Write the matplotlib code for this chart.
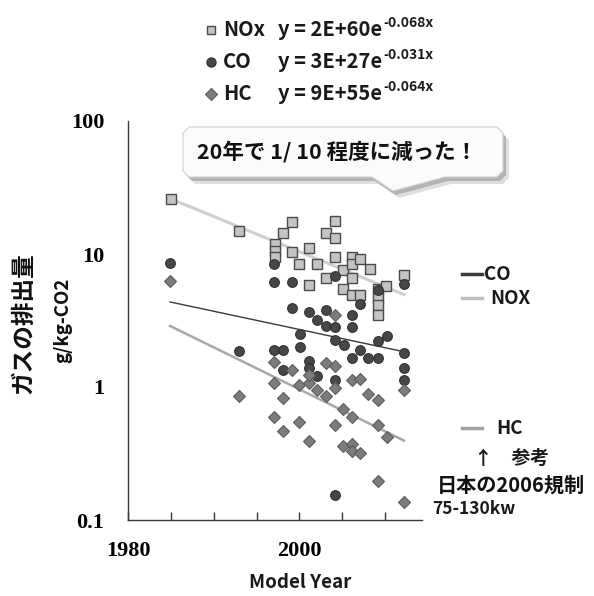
import numpy as np
import matplotlib
matplotlib.use("Agg")
import matplotlib.pyplot as plt
from matplotlib.patches import Polygon
from matplotlib.lines import Line2D

# ---------------- data ----------------
nox_year = [1985.0, 1993.0, 1997.1, 1997.1, 1997.1, 1998.1, 1999.1, 1999.1, 2000.0, 2001.1,
            2001.1, 2002.0, 2003.1, 2003.1, 2004.2, 2004.2, 2004.2, 2005.1, 2005.1, 2006.1,
            2006.1, 2006.1, 2006.1, 2007.1, 2007.1, 2008.2, 2009.2, 2009.2, 2009.2, 2009.2,
            2010.1, 2012.2]
nox_val = [26.0, 14.8, 11.8, 10.6, 9.5, 14.5, 17.4, 10.4, 8.4, 11.1,
           5.8, 8.4, 14.5, 6.6, 17.7, 13.1, 9.5, 7.6, 5.5, 9.5,
           8.4, 6.6, 4.9, 9.1, 4.9, 7.7, 5.5, 4.7, 4.1, 3.5,
           5.7, 7.0]

co_year = [1984.9, 1993.0, 1997.0, 1997.0, 1997.0, 1998.1, 1998.1, 1999.1, 1999.1, 2000.1,
           2000.1, 2001.1, 2001.1, 2001.1, 2002.0, 2002.0, 2003.1, 2003.1, 2004.2, 2004.2,
           2004.2, 2004.2, 2004.2, 2005.2, 2006.1, 2006.1, 2006.1, 2007.1, 2007.1, 2008.0,
           2009.2, 2009.2, 2009.2, 2010.2, 2012.2, 2012.2, 2012.2, 2012.2]
co_val = [8.5, 1.85, 8.4, 6.2, 1.9, 1.9, 1.35, 6.2, 3.9, 2.5,
          2.0, 3.65, 1.56, 1.4, 3.2, 1.2, 3.8, 2.9, 6.8, 2.85,
          2.25, 1.13, 0.155, 2.07, 3.5, 2.85, 1.65, 4.2, 1.9, 1.65,
          5.4, 2.2, 1.65, 2.4, 5.9, 1.8, 1.4, 1.13]

hc_year = [1984.9, 1993.0, 1997.0, 1997.0, 1997.0, 1998.1, 1998.1, 1999.1, 2000.0, 2000.0,
           2001.1, 2001.1, 2001.1, 2002.0, 2003.1, 2003.1, 2004.2, 2004.2, 2004.2, 2004.2,
           2005.1, 2005.1, 2006.1, 2006.1, 2006.1, 2006.1, 2007.1, 2007.1, 2008.0, 2009.2,
           2009.2, 2009.2, 2010.2, 2012.2, 2012.2]
hc_val = [6.3, 0.85, 1.55, 1.07, 0.59, 0.82, 0.47, 1.35, 1.04, 0.55,
          1.07, 1.24, 0.39, 0.95, 1.52, 0.85, 3.5, 1.43, 0.98, 0.52,
          0.68, 0.36, 1.13, 0.59, 0.37, 0.33, 1.15, 0.32, 0.89, 0.8,
          0.52, 0.195, 0.42, 0.95, 0.136]

legend_names = ["NOx", "CO", "HC"]
eq_base = ["y = 2E+60e", "y = 3E+27e", "y = 9E+55e"]
eq_exp = ["-0.068x", "-0.031x", "-0.064x"]
y_ticks = [0.1, 1, 10, 100]
y_ticklabels = ["0.1", "1", "10", "100"]
x_major = [1980, 2000]
x_ticklabels = ["1980", "2000"]
callout_text = "20年で 1/ 10 程度に減った！"
ylabel_main = "ガスの排出量"
ylabel_unit = "g/kg-CO2"
xlabel = "Model Year"
right_line_labels = ["CO", "NOX", "HC"]
note_lines = ["↑　参考", "日本の2006規制", "75-130kw"]

# ---------------- styles ----------------
W, H = 594, 596
CJK = ["Noto Sans CJK JP", "DejaVu Sans"]
SANS = ["Noto Sans CJK JP", "DejaVu Sans"]
SERIF = ["Liberation Serif", "DejaVu Serif"]

nox_style = dict(marker="s", ms=6.5, mfc="#c4c4c4", mec="#4a4a4a", mew=1.0, ls="none")
co_style = dict(marker="o", ms=7.0, mfc="#474747", mec="#303030", mew=0.8, ls="none")
hc_style = dict(marker="D", ms=6.3, mfc="#7c7c7c", mec="#5c5c5c", mew=0.8, ls="none")
co_line = dict(color="#3a3a3a", lw=1.0)
nox_line = dict(color="#cfcfcf", lw=2.2)
hc_line = dict(color="#a8a8a8", lw=1.8)

fig = plt.figure(figsize=(W / 100, H / 100), dpi=100)
fig.patch.set_facecolor("white")

ax_left, ax_right, ax_top, ax_bot = 128, 422, 121, 520
ax = fig.add_axes([ax_left / W, 1 - ax_bot / H, (ax_right - ax_left) / W, (ax_bot - ax_top) / H])
ax.set_yscale("log")
ax.set_xlim(1980, 2014.3)
ax.set_ylim(0.1, 100)

# trend lines (exponential least-squares fit, like Excel)
def exp_fit(xs, ys):
    xs = np.asarray(xs, float)
    ys = np.asarray(ys, float)
    b, a = np.polyfit(xs, np.log(ys), 1)
    xx = np.linspace(xs.min(), xs.max(), 100)
    return xx, np.exp(a + b * xx)

xx, yy = exp_fit(nox_year, nox_val)
ax.plot(xx, yy, zorder=1, **nox_line)
xx, yy = exp_fit(hc_year, hc_val)
ax.plot(xx, yy, zorder=1, **hc_line)
xx, yy = exp_fit(co_year, co_val)
ax.plot(xx, yy, zorder=1, **co_line)

ax.plot(nox_year, nox_val, zorder=3, **nox_style)
ax.plot(co_year, co_val, zorder=4, **co_style)
ax.plot(hc_year, hc_val, zorder=5, **hc_style)

for s in ["top", "right"]:
    ax.spines[s].set_visible(False)
for s in ["left", "bottom"]:
    ax.spines[s].set_color("#3a3a3a")
    ax.spines[s].set_linewidth(1.0)

ax.set_yticks(y_ticks)
ax.set_yticklabels(y_ticklabels)
ax.yaxis.set_minor_locator(matplotlib.ticker.NullLocator())
ax.tick_params(axis="y", which="both", length=0, pad=17)
for lab in ax.get_yticklabels():
    lab.set_fontfamily(SERIF)
    lab.set_fontweight("bold")
    lab.set_fontsize(16)

ax.set_xticks(x_major)
ax.set_xticklabels(x_ticklabels)
ax.set_xticks(np.arange(1985, 2015, 5), minor=True)
ax.tick_params(axis="x", which="both", direction="in", length=6, width=1, color="#3a3a3a", pad=15)
for lab in ax.get_xticklabels():
    lab.set_fontfamily(SERIF)
    lab.set_fontweight("bold")
    lab.set_fontsize(16)

# ---------------- overlay in pixel coordinates ----------------
ov = fig.add_axes([0, 0, 1, 1], zorder=10)
ov.set_xlim(0, W)
ov.set_ylim(H, 0)
ov.axis("off")
ov.patch.set_alpha(0)

# top legend with equations
rows_y = [30, 62, 94]
styles = [nox_style, co_style, hc_style]
fig.canvas.draw()
renderer = fig.canvas.get_renderer()
for ry, name, st, base, ex in zip(rows_y, legend_names, styles, eq_base, eq_exp):
    st2 = dict(st)
    st2["ms"] = st["ms"] * 0.95
    ov.plot([211], [ry], **st2)
    ov.text(223, ry, name, fontsize=14.5, fontweight="bold", family=SANS, va="center", ha="left", color="#1a1a1a")
    t = ov.text(278, ry, base, fontsize=14.5, fontweight="bold", family=SANS, va="center", ha="left", color="#1a1a1a")
    bb = t.get_window_extent(renderer=renderer)
    x_end = bb.x1
    ov.text(x_end + 1, ry - 7, ex, fontsize=10, fontweight="bold", family=SANS, va="center", ha="left", color="#1a1a1a")

# callout
shape = [(189, 127), (497, 127), (503, 133), (503, 171), (497, 177), (445, 177), (393, 191),
         (372, 177), (189, 177), (183, 171), (183, 133)]
for off, col, al in [((6, 7), "#d8d8d8", 0.8), ((3, 4), "#a8a8a8", 0.8)]:
    ov.add_patch(Polygon([(x + off[0], y + off[1]) for x, y in shape], closed=True,
                         facecolor=col, edgecolor="none", alpha=al, zorder=1))
ov.add_patch(Polygon(shape, closed=True, facecolor="#fbfbfb", edgecolor="#d0d0d0", lw=0.8, zorder=2))
ov.text(337, 152, callout_text, fontsize=15.5, fontweight="bold", family=CJK, ha="center", va="center",
        color="#111111", zorder=3)

# y labels
ov.text(23, 323, ylabel_main, fontsize=17, fontweight="bold", family=CJK, rotation=90,
        ha="center", va="center", color="#111111")
ov.text(63, 320, ylabel_unit, fontsize=13.5, fontweight="bold", family=SANS, rotation=90,
        ha="center", va="center", color="#111111")

# x label
ov.text(300, 582, xlabel, fontsize=13.5, fontweight="bold", family=SANS, ha="center", va="center",
        color="#1a1a1a")

# right-side line legend
right_rows = [(274, co_line["color"], 2.5, 484), (298, "#c0c0c0", 2.5, 490), (428, "#a0a0a0", 2.5, 496)]
for (ry, col, lw, tx), lab in zip(right_rows, right_line_labels):
    ov.add_line(Line2D([462, 482], [ry, ry], color=col, lw=lw))
    ov.text(tx, ry, lab, fontsize=13.5, fontweight="bold", family=SANS, ha="left", va="center", color="#1a1a1a")

ov.text(474, 458, note_lines[0], fontsize=13.5, fontweight="bold", family=CJK, ha="left", va="center",
        color="#1a1a1a")
ov.text(437, 485, note_lines[1], fontsize=14.5, fontweight="bold", family=CJK, ha="left", va="center",
        color="#111111")
ov.text(432, 509, note_lines[2], fontsize=12.5, fontweight="bold", family=SANS, ha="left", va="center",
        color="#1a1a1a")

fig.savefig("out.png", dpi=100, facecolor="white")
